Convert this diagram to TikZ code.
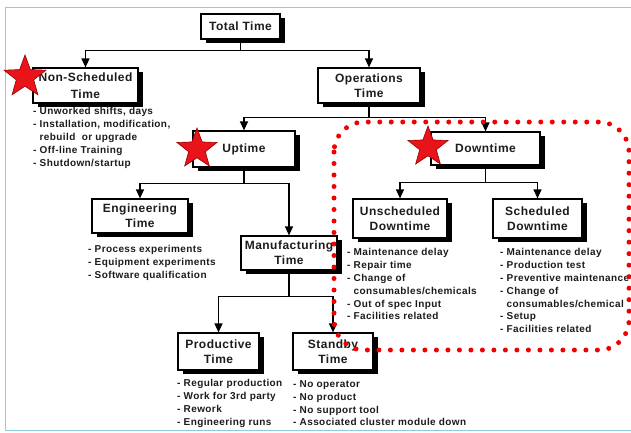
\documentclass[tikz,border=0pt]{standalone}
\usepackage{fontspec}
\setmainfont{Liberation Sans}[LetterSpace=4]
\usetikzlibrary{shadows,shapes.geometric,arrows.meta}
\definecolor{framecol}{RGB}{140,205,218}
\definecolor{txt}{RGB}{28,28,28}
\definecolor{starred}{RGB}{232,20,26}
\definecolor{stardark}{RGB}{150,0,0}
\definecolor{dotred}{RGB}{240,0,0}
\begin{document}
\begin{tikzpicture}[x=1pt,y=-1pt,
 box/.style={draw=black, fill=white, line width=1.2pt, align=center, inner sep=0pt, text=txt,
   font=\fontsize{12}{15}\selectfont\bfseries,
   drop shadow={fill=black, opacity=1, shadow xshift=4.5pt, shadow yshift=-4pt}},
 blist/.style={anchor=north west, inner sep=0pt, align=left, text=txt, font=\fontsize{10}{12.8}\selectfont\bfseries},
 conn/.style={line width=1.2pt, draw=black},
 arr/.style={conn, -{Triangle[length=9pt,width=8pt]}},
 redstar/.style={star, star points=5, star point ratio=2.4, fill=starred, draw=stardark, line width=0.6pt, inner sep=0pt},
 dotline/.style={draw=dotred, line width=5pt, line cap=round, dash pattern=on 0pt off 11.5pt}
]
\useasboundingbox (0,0) rectangle (631,432);
\fill[white] (0,0) rectangle (631,432);
\draw[framecol, line width=1pt] (631,7) -- (5,7) -- (5,430) -- (631,430);

% boxes
\node[box, minimum width=79pt, minimum height=25pt] (total) at (240.5,26.5) {Total Time};
\node[box, minimum width=105pt, minimum height=35pt, font=\fontsize{12}{17}\selectfont\bfseries] (nonsched) at (85.5,85.5) {Non-Scheduled\\Time};
\node[box, minimum width=102pt, minimum height=35pt] (ops) at (369,85.5) {Operations\\Time};
\node[box, minimum width=102pt, minimum height=36pt] (uptime) at (244,149) {Uptime};
\node[box, minimum width=109pt, minimum height=33pt] (downtime) at (485.5,148.5) {Downtime};
\node[box, minimum width=96pt, minimum height=34pt] (eng) at (140,216) {Engineering\\Time};
\node[box, minimum width=96pt, minimum height=34pt] (manuf) at (289,253) {Manufacturing\\Time};
\node[box, minimum width=94pt, minimum height=39pt] (unsched) at (400,218.5) {Unscheduled\\Downtime};
\node[box, minimum width=89pt, minimum height=39pt] (sched) at (537.5,218.5) {Scheduled\\Downtime};
\node[box, minimum width=81pt, minimum height=37pt] (prod) at (218.5,351.5) {Productive\\Time};
\node[box, minimum width=80pt, minimum height=37pt] (standby) at (333,351.5) {Standby\\Time};

% connectors
\draw[arr] (total.south) -- ++(0,11) -| (nonsched.north);
\draw[arr] (total.south) -- ++(0,11) -| (ops.north);
\draw[arr] (ops.south) -- ++(0,14) -| (uptime.north);
\draw[arr] (ops.south) -- ++(0,14) -| (downtime.north);
\draw[arr] (uptime.south) -- ++(0,16) -| (eng.north);
\draw[arr] (uptime.south) -- ++(0,16) -| (manuf.north);
\draw[arr] (manuf.south) -- ++(0,26) -| (prod.north);
\draw[arr] (manuf.south) -- ++(0,26) -| (standby.north);
\draw[arr] (downtime.south) -- ++(0,17) -| (unsched.north);
\draw[arr] (downtime.south) -- ++(0,17) -| (sched.north);

% lists
\node[blist] (nslist) at (33,107.5) {- Unworked shifts, days\\- Installation, modification,\\\hphantom{- }rebuild\ \ or upgrade\\- Off-line Training\\- Shutdown/startup};
\node[blist] (englist) at (88,245) {- Process experiments\\- Equipment experiments\\- Software qualification};
\node[blist] (unlist) at (347,248.5) {- Maintenance delay\\- Repair time\\- Change of\\\hphantom{- }consumables/chemicals\\- Out of spec Input\\- Facilities related};
\node[blist] (schlist) at (500,248.5) {- Maintenance delay\\- Production test\\- Preventive maintenance\\- Change of\\\hphantom{- }consumables/chemical\\- Setup\\- Facilities related};
\node[blist] (prodlist) at (177,379.5) {- Regular production\\- Work for 3rd party\\- Rework\\- Engineering runs};
\node[blist] (stlist) at (293,380.5) {- No operator\\- No product\\- No support tool\\- Associated cluster module down};

% red dotted outline
\draw[dotline, rounded corners=30pt] (334,122) rectangle (629,350);

% stars
\node[redstar, minimum size=44pt] (st1) at (25,77) {};
\node[redstar, minimum size=42pt] (st2) at (197,149) {};
\node[redstar, minimum size=42pt] (st3) at (428,147) {};
\end{tikzpicture}
\end{document}
